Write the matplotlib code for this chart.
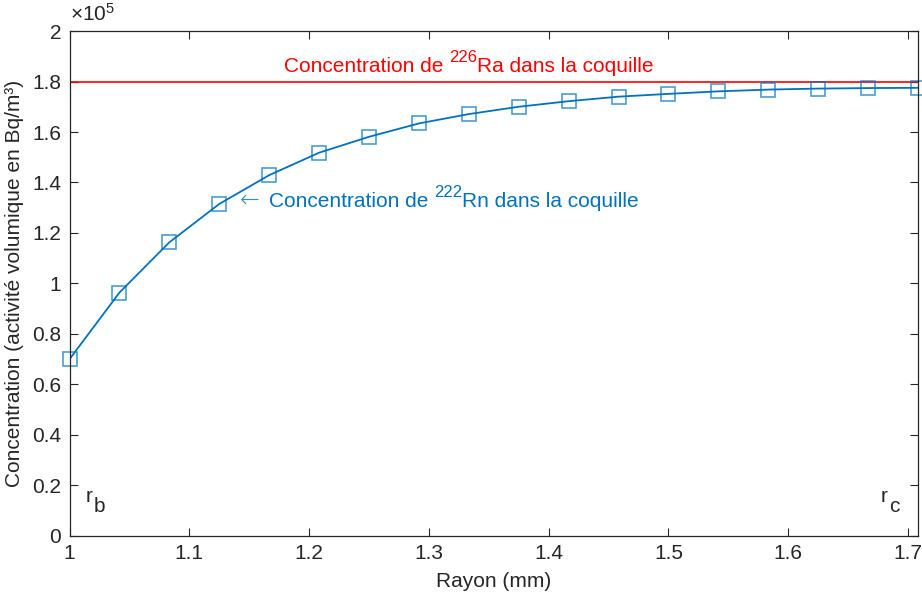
import matplotlib
matplotlib.use("Agg")
import matplotlib.pyplot as plt
import numpy as np
from matplotlib.ticker import FuncFormatter

plt.rcParams['font.family'] = ['Liberation Sans', 'DejaVu Sans']
plt.rcParams['mathtext.fontset'] = 'custom'
plt.rcParams['mathtext.rm'] = 'Liberation Sans'
plt.rcParams['mathtext.it'] = 'Liberation Sans'

# rayon (mm), un point tous les 1/24 mm
rayon = np.arange(18) / 24 + 1.0
# concentration de 222Rn (Bq/m3)
conc_rn = np.array([0.700, 0.964, 1.163, 1.315, 1.429, 1.518, 1.581, 1.634, 1.671,
                    1.700, 1.722, 1.740, 1.751, 1.761, 1.768, 1.772, 1.774, 1.775]) * 1e5
# concentration de 226Ra (constante)
conc_ra = 1.8e5
r_b = rayon[0]
r_c = rayon[-1]

blue = '#0072BD'
dark = '#262626'

fig = plt.figure(figsize=(9.22, 6.01), dpi=100)
ax = fig.add_axes([0.0754, 0.1082, 0.9203, 0.8402])

ax.axhline(conc_ra, color='#FF0000', lw=1.2)
ax.plot(rayon, conc_rn, color=blue, lw=1.3)
ax.plot(rayon, conc_rn, ls='none', marker='s', ms=9.5, mfc='none',
        mec=blue, mew=1.2, alpha=0.7, clip_on=False)

ax.set_xlim(r_b, r_c)
ax.set_ylim(0, 2e5)
ax.set_xticks(np.arange(1.0, 1.71, 0.1))
ax.set_yticks(np.arange(0, 2.01e5, 0.2e5))
ax.xaxis.set_major_formatter(FuncFormatter(lambda v, p: '%g' % round(v, 3)))
ax.yaxis.set_major_formatter(FuncFormatter(lambda v, p: '%g' % round(v / 1e5, 3)))

ax.tick_params(direction='in', length=6, width=0.8, colors=dark, labelsize=15,
               top=True, right=True, pad=6)
for s in ax.spines.values():
    s.set_color(dark)
    s.set_linewidth(0.9)

ax.set_xlabel('Rayon (mm)', fontsize=15, color=dark, labelpad=6)
ax.set_ylabel('Concentration (activité volumique en Bq/m³)', fontsize=15, color=dark, labelpad=6)

ax.text(0.0, 1.012, r'$\times10^5$', transform=ax.transAxes, fontsize=15,
        color=dark, ha='left', va='bottom')


def label_iso(x, y, avant, iso, apres, color):
    # texte MATLAB style: exposant assez gros, colle au texte
    t1 = ax.text(x, y, avant, color=color, fontsize=15, va='baseline')
    t2 = ax.annotate(iso, xy=(1, 0), xycoords=t1, xytext=(0, 7.5),
                     textcoords='offset points', color=color, fontsize=12,
                     va='bottom')
    ax.annotate(apres, xy=(1, 0), xycoords=(t2, t1), color=color,
                fontsize=15, va='bottom')
    return t1


label_iso(1.179, 1.839e5, 'Concentration de ', '226', 'Ra dans la coquille', '#FF0000')
ax.text(1.1425, 1.33e5, '\u2190', color=blue, fontsize=17, va='center',
        family=['DejaVu Sans'], fontweight='light', alpha=0.8)
label_iso(1.1665, 1.304e5, 'Concentration de ', '222', 'Rn dans la coquille', blue)

# r_b et r_c, indice en taille normale comme dans MATLAB
for xr, sub in [(1.0135, 'b'), (1.677, 'c')]:
    ax.text(xr, 0.135e5, 'r', fontsize=15, color=dark, va='baseline')
    ax.annotate(sub, xy=(xr, 0.135e5), xytext=(6, -7), textcoords='offset points',
                fontsize=15, color=dark, va='baseline')

fig.savefig('out.png', dpi=100)
